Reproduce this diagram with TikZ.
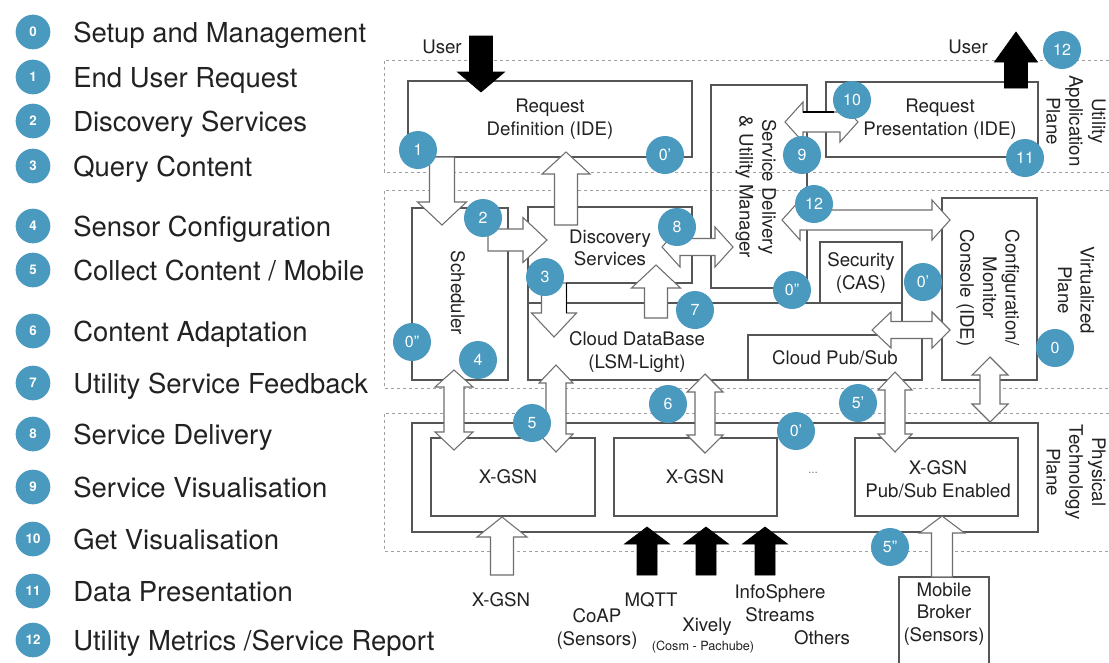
\documentclass[tikz,border=0pt]{standalone}
\usepackage{fontspec}
\setmainfont{TeX Gyre Heros}

\definecolor{badgeblue}{HTML}{4A99BF}
\definecolor{boxline}{HTML}{555555}
\definecolor{arrline}{HTML}{6E6E6E}
\definecolor{planeline}{HTML}{A0A0A0}
\definecolor{ink}{HTML}{222222}

% vertical single block arrow: [style] x, tail y, head-base y, tip y, shaft half width, head half width
\newcommand\ArrowV[7][whitearrow]{%
  \draw[#1] (#2-#6,#3) -- (#2-#6,#4) -- (#2-#7,#4) -- (#2,#5) -- (#2+#7,#4) -- (#2+#6,#4) -- (#2+#6,#3) -- cycle;}
% horizontal single block arrow: [style] y, tail x, head-base x, tip x, shaft half width, head half width
\newcommand\ArrowH[7][whitearrow]{%
  \draw[#1] (#3,#2-#6) -- (#4,#2-#6) -- (#4,#2-#7) -- (#5,#2) -- (#4,#2+#7) -- (#4,#2+#6) -- (#3,#2+#6) -- cycle;}
% vertical double block arrow: x, tip1, base1, base2, tip2, shaft half, head half
\newcommand\DArrowV[7]{%
  \draw[whitearrow] (#1,#2) -- (#1+#7,#3) -- (#1+#6,#3) -- (#1+#6,#4) -- (#1+#7,#4) -- (#1,#5)
    -- (#1-#7,#4) -- (#1-#6,#4) -- (#1-#6,#3) -- (#1-#7,#3) -- cycle;}
% horizontal double block arrow: y, tip1, base1, base2, tip2, shaft half, head half
\newcommand\DArrowH[7]{%
  \draw[whitearrow] (#2,#1) -- (#3,#1-#7) -- (#3,#1-#6) -- (#4,#1-#6) -- (#4,#1-#7) -- (#5,#1)
    -- (#4,#1+#7) -- (#4,#1+#6) -- (#3,#1+#6) -- (#3,#1+#7) -- cycle;}

\tikzset{
  box/.style={draw=boxline, line width=0.8pt},
  plane/.style={draw=planeline, line width=0.6pt, dash pattern=on 2.5pt off 2pt},
  whitearrow/.style={draw=arrline, fill=white, line width=0.8pt, line join=miter},
  blackarrow/.style={draw=black, fill=black, line width=0.5pt},
  darkedge/.style={draw=black, line width=1pt},
  lbl/.style={text=ink, font=\fontsize{14}{17}\selectfont, align=center, inner sep=0pt},
  smalllbl/.style={text=ink, font=\fontsize{9.5}{11}\selectfont, inner sep=0pt},
  badge/.style={circle, fill=badgeblue, text=white, minimum size=28.5pt, inner sep=0pt,
    font=\fontsize{12}{12}\selectfont},
  legbadge/.style={circle, fill=badgeblue, text=white, minimum size=26pt, inner sep=0pt,
    font=\fontsize{10}{10}\selectfont\bfseries},
  legtext/.style={anchor=base west, text=ink, font=\fontsize{20.6}{24}\selectfont, inner sep=0pt},
}

\begin{document}
\begin{tikzpicture}[x=0.75pt,y=-0.75pt]
\useasboundingbox (0,0) rectangle (1109,662);
\fill[white] (0,0) rectangle (1109,662);

% ---------------- legend ----------------
\foreach \n/\yy/\txt in {
  0/32/{Setup and Management},
  1/77/{End User Request},
  2/121/{Discovery Services},
  3/166/{Query Content},
  4/226/{Sensor Configuration},
  5/270/{Collect Content / Mobile},
  6/331/{Content Adaptation},
  7/383/{Utility Service Feedback},
  8/434/{Service Delivery},
  9/487/{Service Visualisation},
  10/539/{Get Visualisation},
  11/591/{Data Presentation},
  12/640/{Utility Metrics /Service Report}}{
  \node[legbadge] (leg\n) at (33,\yy) {\n};
  \node[legtext] (legtxt\n) at (73,\yy+10) {\txt};
}

% ---------------- planes ----------------
\draw[plane] (1109,60) -- (384,60) -- (384,172) -- (1109,172);
\draw[plane] (1109,190) -- (384,190) -- (384,388) -- (1109,388);
\draw[plane] (1109,413) -- (384,413) -- (384,551) -- (1109,551);

\node[lbl, rotate=-90] (planeA) at (1076,121) {Utility\\Application\\Plane};
\node[lbl, rotate=-90] (planeV) at (1076,290) {Virtualized\\Plane};
\node[lbl, rotate=-90] (planeP) at (1076,472) {Physical\\Technology\\Plane};

% ---------------- application plane ----------------
\draw[box] (408,81) rectangle (692,157);
\node[lbl] (reqdef) at (550,119) {Request\\Definition (IDE)};
\draw[box] (826,82) rectangle (1038,157);
\node[lbl] (reqpres) at (940,119) {Request\\Presentation (IDE)};

% ---------------- virtualized plane ----------------
\draw[box] (711,85) rectangle (807,288);
\node[lbl, rotate=-90] (sdum) at (756,187) {Service Delivery\\\& Utility Manager};
\draw[box] (412,208) rectangle (508,380);
\node[lbl, rotate=-90] (sched) at (458,293) {Scheduler};
\draw[box] (566,283) -- (692,283) -- (692,207) -- (528,207) -- (528,303);
\node[lbl] (disc) at (610,248) {Discovery\\Services};
\draw[box] (528,303) rectangle (902,380);
\node[lbl] (clouddb) at (637,352) {Cloud DataBase\\(LSM-Light)};
\draw[box] (820,242) rectangle (902,303);
\node[lbl] (security) at (861,273) {Security\\(CAS)};
\draw[box, fill=white] (748,335) rectangle (922,380);
\node[lbl] (pubsub) at (835,358) {Cloud Pub/Sub};
\draw[box] (942,198) rectangle (1037,380);
\node[lbl, rotate=-90] (console) at (988,288) {Configuration/\\Monitor\\Console (IDE)};

% ---------------- physical plane ----------------
\draw[box] (412,423) rectangle (1038,532);
\draw[box] (431,438) rectangle (595,516);
\node[lbl] (xgsnA) at (508,477) {X-GSN};
\draw[box] (614,438) rectangle (777,516);
\node[lbl] (xgsnB) at (695,477) {X-GSN};
\node[text=gray, font=\fontsize{9}{9}\selectfont, inner sep=0pt] (more) at (813,473) {...};
\draw[box] (855,438) rectangle (1018,516);
\node[lbl] (xgsnC) at (938,479) {X-GSN\\Pub/Sub Enabled};
\draw[box] (899,577) rectangle (989,675);
\node[lbl] (mobile) at (944,614) {Mobile\\Broker\\(Sensors)};

% ---------------- external labels ----------------
\node[lbl] (userIn) at (442,47) {User};
\node[lbl] (userOut) at (968,47) {User};
\node[lbl] (xgsnSrc) at (501,600) {X-GSN};
\node[lbl] (mqtt) at (651,600) {MQTT};
\node[lbl] (coap) at (597,629) {CoAP\\(Sensors)};
\node[lbl] (xively) at (707,627) {Xively};
\node[smalllbl] (cosm) at (703,647) {(Cosm - Pachube)};
\node[lbl] (infosphere) at (780,603) {InfoSphere\\Streams};
\node[lbl] (others) at (822,638) {Others};

% ---------------- block arrows ----------------
\ArrowV[blackarrow]{481}{36}{72}{92}{11.5}{23.5}
\ArrowV[blackarrow]{1016}{88}{62}{32}{11.5}{21.5}
\ArrowV{442}{157}{202}{225}{12.5}{24.5}
\ArrowV{566}{225}{174}{152}{11.5}{24}
\ArrowH{240}{488}{523}{547}{11}{22.5}
\ArrowV{554}{283}{313}{337}{12.5}{22.5}
\draw[darkedge] (566.5,283) -- (566.5,313);
\ArrowV{656}{318}{288}{265}{11.5}{24.5}
\DArrowH{247}{662}{680}{715}{733}{8.5}{20}
\DArrowH{122}{785}{803}{840}{858}{10}{20}
\draw[darkedge] (803,112) -- (834,112);
\DArrowH{220}{782}{800}{932}{950}{10}{20}
\DArrowH{330}{872}{891}{932}{950}{8.5}{18}
\DArrowV{454}{370}{387}{432}{450}{10}{19}
\DArrowV{556}{365}{383}{434}{452}{10}{17}
\DArrowV{705}{374}{392}{435}{453}{10}{18}
\DArrowV{895}{372}{390}{434}{452}{10}{17}
\DArrowV{990}{357}{375}{404}{422}{10}{18}
\ArrowV{502}{575}{537}{517}{11.5}{25}
\ArrowV{942}{577}{533}{516}{10.5}{22.5}
\ArrowV[blackarrow]{647}{575}{544}{527}{10}{22.5}
\ArrowV[blackarrow]{706}{575}{544}{527}{10}{22.5}
\ArrowV[blackarrow]{765}{575}{544}{527}{10}{22.5}

% ---------------- step badges ----------------
\node[badge] (s1) at (418,150) {1};
\node[badge] (s0a) at (665,155) {0’};
\node[badge] (s2) at (483,218) {2};
\node[badge] (s3) at (545,277) {3};
\node[badge] (s8) at (677,227) {8};
\node[badge] (s7) at (695,310) {7};
\node[badge] (s0b) at (412,342) {0”};
\node[badge] (s4) at (478,360) {4};
\node[badge] (s5) at (532,423) {5};
\node[badge] (s6) at (668,404) {6};
\node[badge] (s0c) at (796,431) {0’};
\node[badge] (s5a) at (858,403) {5’};
\node[badge] (s5b) at (890,547) {5”};
\node[badge] (s0d) at (792,290) {0”};
\node[badge] (s0e) at (923,282) {0’};
\node[badge] (s0f) at (1055,348) {0};
\node[badge] (s12a) at (814,204) {12};
\node[badge] (s9) at (802,155) {9};
\node[badge] (s10) at (852,100) {10};
\node[badge] (s11) at (1025,158) {11};
\node[badge] (s12b) at (1062,50) {12};
\end{tikzpicture}
\end{document}
